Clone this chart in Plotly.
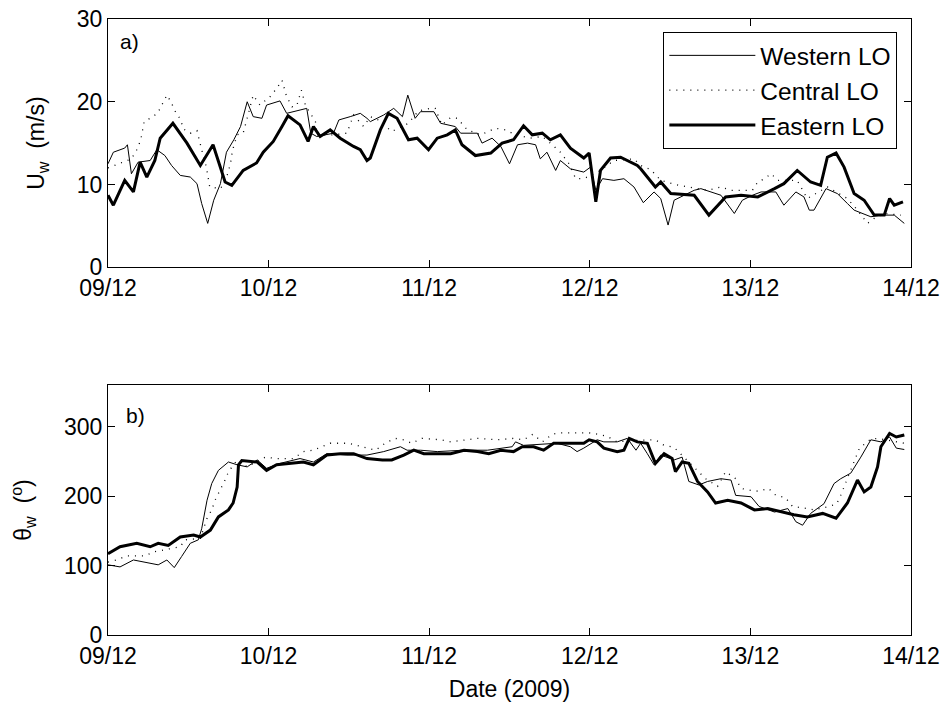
import pandas as pd
import plotly.graph_objects as go

BASE = pd.Timestamp("2009-12-09")

# ---------------- Panel a) wind speed U_w (m/s) ----------------
west_u_h = [0, 0.8, 2.5, 2.9, 3.5, 4.5, 6.3, 7.3, 8.5, 9.5, 10.8, 12.3, 13.3, 14, 14.9, 15.8, 16.8, 17.7,
            18.8, 19.8, 20.8, 21.7, 23, 23.7, 25.7, 26.7, 28.7, 29.7, 30.3, 31.2, 33.7, 34.5, 36.2, 37.7,
            38.7, 39.2, 41.2, 42.7, 44, 44.8, 45.9, 46.7, 48.7, 49.7, 51.9, 52.7, 55.2, 55.9, 57.4, 58.7,
            60, 61.2, 62.7, 63.9, 64.6, 65.6, 66.9, 67.6, 69.1, 71.1, 72.1, 72.9, 73.9, 75.6, 77.1, 78.6,
            80, 81.6, 82.6, 83.7, 84.6, 85.6, 87.6, 88.6, 90.3, 91.6, 93.6, 94.8, 96.3, 97.6, 99.8, 101,
            102.8, 104, 104.8, 105.5, 107.3, 109, 110.5, 111.5, 114, 115.5, 117.5, 119]
west_u = [12.5, 13.9, 14.4, 14.8, 11.3, 12.7, 12.9, 14.2, 13.5, 12.3, 11.1, 10.9, 10.1, 7.7, 5.3, 8.1, 10.1, 13.9,
          15.4, 17.0, 20.0, 18.2, 18.0, 19.6, 20.1, 18.6, 19.0, 19.2, 16.2, 15.8, 16.2, 17.8, 18.2, 18.6,
          18.0, 17.6, 18.4, 19.2, 18.2, 20.8, 18.0, 18.8, 18.8, 17.4, 17.0, 16.2, 16.2, 15.0, 15.6, 14.6,
          12.5, 14.8, 15.0, 14.8, 13.1, 13.9, 11.7, 12.9, 11.9, 11.5, 12.1, 9.3, 10.7, 10.5, 10.7, 9.7,
          7.8, 9.1, 8.3, 5.1, 8.1, 8.5, 9.3, 9.5, 9.1, 8.7, 6.5, 8.1, 8.7, 9.1, 9.1, 7.5,
          9.1, 8.5, 6.9, 6.9, 9.5, 8.9, 7.7, 6.9, 6.1, 6.3, 6.3, 5.3]

cent_u_h = [0, 3.5, 4.3, 4.9, 5.4, 6.3, 7.4, 8, 8.8, 9.4, 10, 10.8, 11.3, 12.3, 13.3, 14, 14.7, 15.2, 16.8,
            17.6, 18.3, 18.6, 19.3, 20.2, 21.7, 22.7, 24.2, 25.2, 26, 26.7, 27.5, 28.2, 28.9, 29.5, 31,
            31.2, 33.7, 35.7, 36.7, 38.2, 39.2, 40.4, 42.4, 44.9, 46.4, 48.2, 48.9, 49.9, 51.2, 52.2, 53.7,
            55.7, 57.9, 59.4, 60.9, 63.1, 64.9, 66.4, 67.6, 68.9, 69.9, 71.1, 73.6, 75.6, 78.6, 79.6, 81.1,
            82.6, 85.3, 89.6, 91.6, 93.1, 96.3, 97.1, 98.1, 99.1, 100.1, 103, 104.5, 107.5, 110.5, 111.8,
            113.5, 114.5, 116, 118.5]
cent_u = [12.0, 13.1, 14.2, 15.4, 17.6, 18.0, 18.6, 19.6, 20.8, 20.0, 18.9, 17.9, 16.7, 16.2, 16.5, 14.2, 12.1, 9.7, 9.5,
          10.5, 12.5, 14.1, 16.0, 16.2, 20.8, 19.6, 20.6, 21.6, 22.6, 20.6, 19.4, 19.5, 21.4, 19.6, 17.6,
          16.0, 16.0, 16.2, 18.4, 17.0, 18.2, 17.8, 16.4, 17.4, 18.9, 19.2, 19.2, 17.2, 18.1, 18.0, 16.6,
          16.0, 16.8, 16.6, 16.0, 15.6, 15.8, 14.8, 13.9, 12.5, 10.7, 10.7, 11.7, 12.9, 13.1, 12.3, 11.8,
          10.5, 9.9, 9.3, 9.7, 9.3, 9.3, 10.3, 10.7, 11.3, 10.5, 10.5, 8.3, 9.7, 8.3, 7.1,
          5.3, 5.9, 6.5, 6.3]

east_u_h = [0, 0.8, 2.5, 3.8, 4.8, 5.8, 7, 7.8, 9.7, 11.8, 13.8, 15.7, 17.5, 18.5, 20.2, 22.2, 23.2, 24.7, 26,
            26.9, 28.7, 29.9, 30.7, 31.7, 33.2, 34.7, 36.7, 37.7, 38.7, 39.2, 40.7, 41.9, 43.2, 44.9, 46.2,
            47.9, 49.2, 50.7, 51.9, 52.9, 54.9, 57.2, 58.9, 60.6, 62.1, 63.4, 64.9, 66.1, 67.6, 69.1, 71.1,
            71.9, 72.9, 73.6, 75.1, 76.6, 79.1, 79.6, 81.8, 82.6, 84.1, 87.6, 89.8, 92.3, 94.6, 97.1, 99.6,
            101, 103, 105, 106.5, 107.5, 108.8, 110, 111.5, 113, 114.5, 116, 116.8, 117.5, 118.8]
east_u = [8.7, 7.5, 10.5, 9.1, 12.7, 10.9, 12.9, 15.6, 17.4, 15.0, 12.3, 14.8, 10.3, 9.9, 11.7, 12.6, 13.9, 15.2, 17.0,
          18.3, 17.2, 15.2, 17.0, 15.8, 16.6, 15.6, 14.6, 14.2, 12.9, 13.2, 16.6, 18.6, 18.0, 15.4, 15.6,
          14.2, 15.6, 16.0, 16.6, 14.8, 13.5, 13.8, 15.0, 15.4, 17.1, 16.0, 16.2, 15.4, 16.0, 14.4, 13.2,
          13.8, 7.9, 11.7, 13.2, 13.3, 12.3, 11.9, 9.7, 10.3, 8.9, 8.7, 6.3, 8.5, 8.7, 8.5, 9.5,
          10.1, 11.7, 10.3, 9.9, 13.3, 13.8, 12.1, 8.9, 8.1, 6.3, 6.3, 8.3, 7.5, 7.9]

# ---------------- Panel b) wind direction theta_w (deg) ----------------
west_d_h = [0, 1.8, 3.8, 5.3, 7.5, 8.8, 9.9, 11, 12.3, 13.5, 14, 14.8, 15.5, 16.5, 18, 19.3, 20.8, 22.3, 23.7,
            25.7, 28.7, 30.7, 32.7, 35.7, 38.7, 41.2, 43.7, 44.7, 46.7, 49.2, 53.1, 56.7, 60.4, 60.9, 62.1,
            67.1, 69.1, 70.1, 71.1, 73.1, 74.1, 76.1, 77.6, 78.9, 79.6, 80.6, 81.6, 82.6, 84.6, 85.8, 86.8,
            88.3, 89.6, 91.6, 93.1, 93.8, 96.1, 97.3, 99.6, 101.6, 102.8, 103.8, 105, 107, 108.5, 109.5,
            111, 112.5, 114, 115.5, 116.8, 117.8, 119]
west_d = [101, 98, 108, 105, 101, 108, 97, 113, 132, 137, 153, 194, 218, 237, 249, 245, 242, 252, 240,
          247, 254, 249, 261, 259, 259, 264, 271, 266, 266, 264, 266, 266, 271, 278, 273,
          276, 271, 264, 269, 281, 278, 278, 283, 266, 276, 261, 245, 259, 252, 256, 221,
          216, 221, 225, 223, 201, 199, 185, 177, 182, 163, 158, 175, 189, 218, 225,
          233, 256, 281, 278, 285, 269, 267]

cent_d_h = [0, 1.3, 2.8, 5.5, 7, 10.8, 11.5, 13.8, 14.8, 15.5, 16, 16.8, 17.5, 18, 19.3, 20.8, 23.5, 25.2,
            27.7, 29.2, 30.7, 33.2, 36, 38.7, 40, 41.4, 42.9, 44.2, 45.4, 46.9, 49.7, 51.2, 53.9, 55.2,
            58.2, 60.6, 62.1, 63.5, 64.9, 66.4, 67.6, 70.5, 71.9, 73.3, 74.6, 76.1, 78.5, 81.8, 83.1,
            84.6, 88.1, 89.3, 91.1, 92.3, 93.8, 94.6, 96.1, 97.3, 98.7, 99.8, 101.2, 102.3, 104.5, 105.5,
            107.8, 108.9, 109.5, 110, 111.1, 112.3, 114, 115, 119]
cent_d = [105, 108, 114, 114, 120, 127, 137, 139, 168, 180, 194, 209, 223, 235, 252, 242, 256, 254,
          254, 264, 266, 276, 276, 269, 266, 276, 283, 281, 276, 283, 281, 278, 281, 283,
          281, 283, 281, 289, 278, 289, 291, 291, 291, 289, 286, 278, 280, 281, 273,
          270, 237, 225, 214, 235, 225, 211, 208, 207, 211, 201, 198, 185, 182, 180,
          185, 189, 201, 214, 240, 269, 282, 283, 276]

east_d_h = [0, 1.8, 4.3, 6.3, 7.5, 9, 10.8, 12.8, 13.8, 15.3, 16.5, 18, 18.7, 19.3, 19.5, 20, 22.3, 23.7,
            25.2, 27.7, 29.2, 30.7, 32.7, 34.7, 36.7, 38.7, 41, 42.4, 44.2, 45.7, 47.2, 49.2, 51.2, 53.2,
            55.2, 56.9, 58.7, 60.6, 61.9, 63.6, 65.1, 66.6, 69.1, 71.1, 71.9, 73.1, 74.1, 76.1, 77.1, 77.9,
            79.1, 80.6, 81.8, 83.1, 84.3, 84.8, 85.8, 86.8, 88.1, 89.6, 90.8, 92.6, 94.6, 96.6, 98.6,
            100.6, 102.5, 104.5, 106.8, 108.8, 110.5, 112, 113, 114, 115, 115.5, 116.8, 117.8, 119]
east_d = [117, 127, 132, 127, 132, 129, 141, 144, 141, 151, 170, 180, 190, 213, 245, 251, 249, 237,
          245, 247, 249, 245, 259, 261, 261, 254, 252, 252, 259, 266, 261, 261, 261, 266,
          264, 261, 266, 264, 271, 271, 266, 276, 276, 276, 281, 278, 269, 264, 266, 283,
          278, 276, 247, 261, 254, 235, 249, 247, 221, 206, 190, 194, 190, 180, 182,
          177, 173, 170, 175, 168, 190, 223, 206, 213, 242, 271, 290, 285, 288]

series_names = ["Western LO", "Central LO", "Eastern LO"]
x_ticks = ["2009-12-09", "2009-12-10", "2009-12-11", "2009-12-12", "2009-12-13", "2009-12-14"]
x_tick_labels = ["09/12", "10/12", "11/12", "12/12", "13/12", "14/12"]
u_ticks = [0, 10, 20, 30]
d_ticks = [0, 100, 200, 300]


def times(hours):
    return BASE + pd.to_timedelta(hours, unit="h")


styles = [dict(color="black", width=1),
          dict(color="black", width=1.3, dash="1px,6px"),
          dict(color="black", width=3)]

fig = go.Figure()
top = [(west_u_h, west_u), (cent_u_h, cent_u), (east_u_h, east_u)]
bot = [(west_d_h, west_d), (cent_d_h, cent_d), (east_d_h, east_d)]
for name, st, (h, v) in zip(series_names, styles, top):
    fig.add_trace(go.Scatter(x=times(h), y=v, mode="lines", name=name, line=st,
                             xaxis="x", yaxis="y", showlegend=True))
for name, st, (h, v) in zip(series_names, styles, bot):
    fig.add_trace(go.Scatter(x=times(h), y=v, mode="lines", name=name, line=st,
                             xaxis="x2", yaxis="y2", showlegend=False))

FONT = "Liberation Sans, Arial, sans-serif"
axis_common = dict(showline=True, linecolor="black", linewidth=1, mirror="ticks",
                   ticks="inside", ticklen=7, tickcolor="black", showgrid=False, zeroline=False,
                   automargin=False,
                   tickfont=dict(family=FONT, size=23, color="black"))
xcommon = dict(axis_common, type="date", range=[x_ticks[0], x_ticks[-1]],
               tickvals=x_ticks, ticktext=x_tick_labels)

fig.update_layout(
    width=941, height=702,
    margin=dict(l=108, r=30, t=19, b=67),
    paper_bgcolor="white", plot_bgcolor="white",
    font=dict(family=FONT, size=23, color="black"),
    xaxis=dict(xcommon, domain=[0, 1], anchor="y"),
    yaxis=dict(axis_common, domain=[0.597, 1], range=[0, 30], tickvals=u_ticks, anchor="x",
               title=dict(text="U<sub>w</sub>  (m/s)", standoff=25, font=dict(size=23))),
    xaxis2=dict(xcommon, domain=[0, 1], anchor="y2",
                title=dict(text="Date (2009)", standoff=18, font=dict(size=23))),
    yaxis2=dict(axis_common, domain=[0, 0.406], range=[0, 360], tickvals=d_ticks, anchor="x2",
                title=dict(text="θ<sub>w</sub>  (<sup>o</sup>)", standoff=25, font=dict(size=23))),
    legend=dict(x=0.983, y=0.979, xanchor="right", yanchor="top", bgcolor="white",
                bordercolor="black", borderwidth=1, font=dict(family=FONT, size=24.5),
                itemwidth=86, tracegroupgap=0),
    annotations=[
        dict(text="a)", xref="x domain", yref="y domain", x=0.012, y=0.91, xanchor="left",
             yanchor="middle", showarrow=False, font=dict(family=FONT, size=21)),
        dict(text="b)", xref="x2 domain", yref="y2 domain", x=0.02, y=0.876, xanchor="left",
             yanchor="middle", showarrow=False, font=dict(family=FONT, size=21)),
    ],
)

fig.write_html("out.html")
